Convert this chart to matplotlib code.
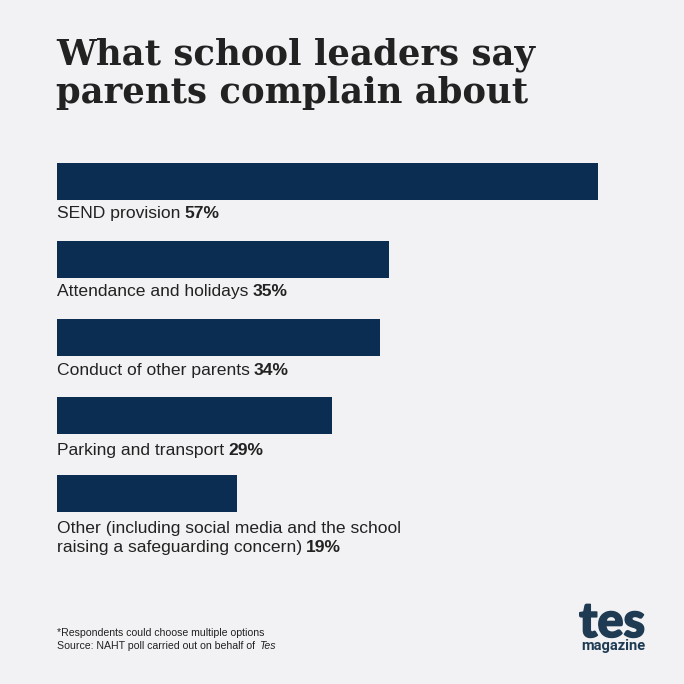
#!/usr/bin/env python

import matplotlib
matplotlib.use("Agg")
import matplotlib.pyplot as plt
from matplotlib.patheffects import withStroke

# -----------------------------------------------------
# DATA
# -----------------------------------------------------
labels = [
    "SEND provision",
    "Attendance and holidays",
    "Conduct of other parents",
    "Parking and transport",
    "Other (including social media and the school\nraising a safeguarding concern)",
]
values = [57, 35, 34, 29, 19]
value_labels = ["57%", "35%", "34%", "29%", "19%"]

BG = "#f2f2f4"
NAVY = "#0c2d52"
INK = "#222222"
LOGO = "#1f3b53"
W = H = 684


def px(x, y):
    # pixel position from top left -> figure fraction
    return x / W, 1 - y / H


def main():
    fig = plt.figure(figsize=(6.84, 6.84), dpi=100, facecolor=BG)

    # axes covers the bars only, x is percent
    ax = fig.add_axes([57 / W, 1 - 512 / H, 541 / W, (512 - 163) / H])
    ax.barh(range(len(values)), values, height=37 / 78, color=NAVY)
    ax.set_xlim(0, 57)
    ax.set_ylim(len(values) - 1 + 37 / 156, -37 / 156)
    ax.axis("off")

    # title
    fig.text(*px(56, 64), "What school leaders say", family="DejaVu Serif",
             weight="bold", fontsize=25.5, color=INK, va="baseline")
    fig.text(*px(56, 103), "parents complain about", family="DejaVu Serif",
             weight="bold", fontsize=25.5, color=INK, va="baseline")

    # category labels, value in bold straight after the last line
    renderer = fig.canvas.get_renderer()
    baselines = [218, 296, 375, 455]
    for i, name in enumerate(labels[:4]):
        t = fig.text(*px(57, baselines[i]), name, family="Liberation Sans",
                     fontsize=12.6, color=INK, va="baseline")
        right = t.get_window_extent(renderer).x1
        fig.text(right / W + 4 / W, 1 - baselines[i] / H, value_labels[i],
                 family="Liberation Sans", weight="bold", fontsize=12.6,
                 color=INK, va="baseline")

    first, second = labels[4].split("\n")
    fig.text(*px(57, 533), first, family="Liberation Sans", fontsize=12.6,
             color=INK, va="baseline")
    t = fig.text(*px(57, 552), second, family="Liberation Sans", fontsize=12.6,
                 color=INK, va="baseline")
    right = t.get_window_extent(renderer).x1
    fig.text(right / W + 4 / W, 1 - 552 / H, value_labels[4],
             family="Liberation Sans", weight="bold", fontsize=12.6,
             color=INK, va="baseline")

    # footnote
    fig.text(*px(57, 636), "*Respondents could choose multiple options",
             family="Liberation Sans", fontsize=7.6, color=INK, va="baseline")
    t = fig.text(*px(57, 649), "Source: NAHT poll carried out on behalf of ",
                 family="Liberation Sans", fontsize=7.6, color=INK, va="baseline")
    right = t.get_window_extent(renderer).x1
    fig.text(right / W + 1.5 / W, 1 - 649 / H, "Tes", family="Liberation Sans",
             style="italic", fontsize=7.6, color=INK, va="baseline")

    # logo
    fig.text(*px(612, 637), "tes", family="Lato", weight="black", fontsize=35,
             color=LOGO, ha="center", va="baseline",
             path_effects=[withStroke(linewidth=1.2, foreground=LOGO)])
    fig.text(*px(613.5, 650), "magazine", family="Roboto", weight="bold",
             fontsize=10.5, color=LOGO, ha="center", va="baseline")

    fig.savefig("out.png", dpi=100, facecolor=BG)


if __name__ == "__main__":
    main()
